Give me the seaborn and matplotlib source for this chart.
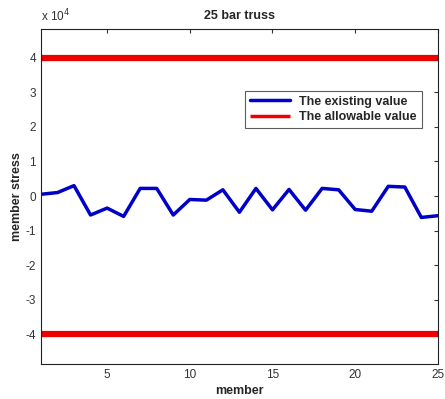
import numpy as np
import pandas as pd
import seaborn as sns
import matplotlib.pyplot as plt

# valors llegits de la figura (tensio en unitats de 1e4)
members = list(range(1, 26))
stress_e4 = [0.05, 0.1, 0.3, -0.55, -0.35, -0.59, 0.22, 0.22, -0.55, -0.1,
             -0.12, 0.18, -0.47, 0.22, -0.4, 0.19, -0.41, 0.22, 0.18, -0.39,
             -0.44, 0.28, 0.26, -0.62, -0.57]
allowable_e4 = 4.0

sns.set_style('white')
plt.rcParams['font.family'] = ['Liberation Sans', 'DejaVu Sans']
plt.rcParams['axes.unicode_minus'] = False

df = pd.DataFrame({'member': members, 'stress': stress_e4})

fig = plt.figure(figsize=(4.45, 3.99), dpi=100)
ax = fig.add_axes([0.092, 0.087, 0.892, 0.84])

sns.lineplot(data=df, x='member', y='stress', ax=ax, color='#0000c8', linewidth=2.5,
             label='The existing value')
ax.plot([members[0], members[-1]], [allowable_e4, allowable_e4], color='#ee0000', linewidth=4.5,
        label='The allowable value', solid_capstyle='butt')
ax.plot([members[0], members[-1]], [-allowable_e4, -allowable_e4], color='#ee0000', linewidth=4.5,
        solid_capstyle='butt')

ax.set_xlim(1, 25)
ax.set_ylim(-4.87, 4.83)
ax.set_xticks([5, 10, 15, 20, 25])
ax.set_yticks([-4, -3, -2, -1, 0, 1, 2, 3, 4])
ax.tick_params(direction='in', length=3, width=0.8, top=True, right=True,
               labelsize=8.5, labelcolor='#333333', color='#333333')
for s in ax.spines.values():
    s.set_color('#222222')
    s.set_linewidth(0.8)

ax.set_xlabel('member', fontsize=9, fontweight='bold', labelpad=3)
ax.set_ylabel('member stress', fontsize=9, fontweight='bold', labelpad=2)
ax.set_title('25 bar truss', fontsize=9, fontweight='bold', pad=7)
ax.text(0.0, 1.015, 'x 10$^4$', transform=ax.transAxes, fontsize=8.5, color='#333333',
        ha='left', va='bottom')

leg = ax.legend(loc='upper right', bbox_to_anchor=(0.975, 0.835),
                prop={'weight': 'bold', 'size': 9}, frameon=True, fancybox=False,
                edgecolor='#333333', handlelength=3.2, borderpad=0.4, labelspacing=0.3,
                handletextpad=0.7)
leg.get_frame().set_linewidth(0.8)
for line in leg.get_lines():
    line.set_linewidth(2.5)

fig.savefig('out.png', dpi=100)
